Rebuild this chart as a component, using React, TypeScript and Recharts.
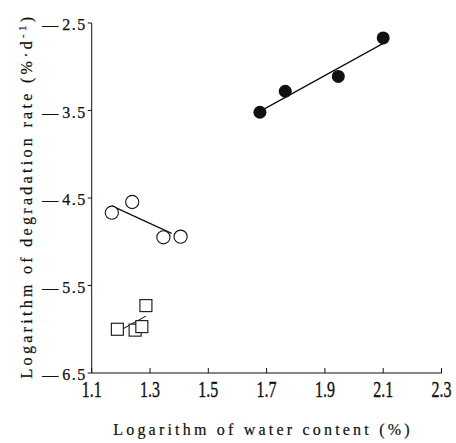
import React from 'react';
import { ScatterChart, Scatter, XAxis, YAxis } from 'recharts';

const xTicks = [1.1, 1.3, 1.5, 1.7, 1.9, 2.1, 2.3];
const yTicks = [-6.5, -5.5, -4.5, -3.5, -2.5];

const filledX = [1.677, 1.764, 1.946, 2.1];
const filledY = [-3.52, -3.28, -3.11, -2.67];
const openX = [1.169, 1.239, 1.346, 1.405];
const openY = [-4.668, -4.546, -4.949, -4.942];
const squareX = [1.188, 1.249, 1.272, 1.286];
const squareY = [-6.0, -6.01, -5.97, -5.73];

const fitFilledX = [1.677, 2.1];
const fitFilledY = [-3.51, -2.733];
const fitOpenX = [1.169, 1.374];
const fitOpenY = [-4.589, -4.904];
const fitSquareX = [1.188, 1.286];
const fitSquareY = [-6.03, -5.85];

const toPts = (xs: number[], ys: number[]) => xs.map((x, i) => ({ x, y: ys[i] }));

const INK = '#111';
const FONT = 'Liberation Serif, serif';
const fs = (size: number, extra: any = {}) => ({ fontFamily: FONT, fontSize: size, ...extra });

const FilledDot = (p: any) => <circle cx={p.cx} cy={p.cy} r={6.5} fill={INK} />;
const OpenDot = (p: any) => <circle cx={p.cx} cy={p.cy} r={6.6} fill="#fff" stroke={INK} strokeWidth={1.1} />;
const SquareDot = (p: any) => (
  <rect x={p.cx - 6} y={p.cy - 6} width={12} height={12} fill="#fff" stroke={INK} strokeWidth={1.1} />
);
const NoDot = () => <g />;

const XTick = (p: any) => {
  const { x, y, payload } = p;
  return (
    <g>
      <line x1={x} x2={x} y1={y} y2={y - 5} stroke={INK} strokeWidth={1} />
      <text
        transform={`translate(${x},${y + 24}) scale(1,1.5)`}
        textAnchor="middle"
        style={fs(16)}
        fill={INK}
        stroke={INK}
        strokeWidth={0.25}
      >
        {payload.value.toFixed(1)}
      </text>
    </g>
  );
};

const YTick = (p: any) => {
  const { x, y, payload } = p;
  const v = Math.abs(payload.value).toFixed(1);
  return (
    <text x={x} y={y + 7} textAnchor="end" style={fs(16)} fill={INK} stroke={INK} strokeWidth={0.25}>
      <tspan>—</tspan>
      <tspan dx={4} style={{ letterSpacing: 1.5 }}>{v}</tspan>
    </text>
  );
};

const YLabel = () => (
  <text
    transform="translate(32,196) rotate(-90)"
    textAnchor="middle"
    style={fs(16, { letterSpacing: 3.3 })}
    fill={INK}
    stroke={INK}
    strokeWidth={0.2}
  >
    Logarithm of degradation rate (%·d
    <tspan style={{ fontSize: 11 }} dy={-6}>-1</tspan>
    <tspan dy={6}>)</tspan>
  </text>
);

const XLabel = () => (
  <text x={263} y={435} textAnchor="middle" style={fs(16, { letterSpacing: 3.2 })} fill={INK} stroke={INK} strokeWidth={0.2}>
    Logarithm of water content (%)
  </text>
);

export default function App() {
  return (
    <div style={{ position: 'absolute', left: 0, top: 0, width: 456, height: 443, background: '#fff' }}>
      <ScatterChart width={456} height={443} margin={{ top: 23, right: 14.5, bottom: 0, left: 0 }}>
        <XAxis
          type="number"
          dataKey="x"
          domain={[1.1, 2.3]}
          ticks={xTicks}
          height={70}
          tickSize={0}
          tickMargin={0}
          tickLine={false}
          tick={<XTick />}
          axisLine={{ stroke: INK, strokeWidth: 1 }}
          label={{ content: () => <XLabel /> }}
          interval={0}
        />
        <YAxis
          type="number"
          dataKey="y"
          domain={[-6.5, -2.5]}
          ticks={yTicks}
          width={91.7}
          tickSize={4}
          tickMargin={1}
          tickLine={{ stroke: INK, strokeWidth: 1 }}
          tick={<YTick />}
          axisLine={{ stroke: INK, strokeWidth: 1 }}
          label={{ content: () => <YLabel /> }}
          interval={0}
        />
        <Scatter data={toPts(fitFilledX, fitFilledY)} line={{ stroke: INK, strokeWidth: 1.3 }} shape={NoDot} isAnimationActive={false} />
        <Scatter data={toPts(fitOpenX, fitOpenY)} line={{ stroke: INK, strokeWidth: 1.3 }} shape={NoDot} isAnimationActive={false} />
        <Scatter data={toPts(fitSquareX, fitSquareY)} line={{ stroke: INK, strokeWidth: 1.1 }} shape={NoDot} isAnimationActive={false} />
        <Scatter data={toPts(filledX, filledY)} shape={FilledDot} isAnimationActive={false} />
        <Scatter data={toPts(openX, openY)} shape={OpenDot} isAnimationActive={false} />
        <Scatter data={toPts(squareX, squareY)} shape={SquareDot} isAnimationActive={false} />
      </ScatterChart>
    </div>
  );
}
